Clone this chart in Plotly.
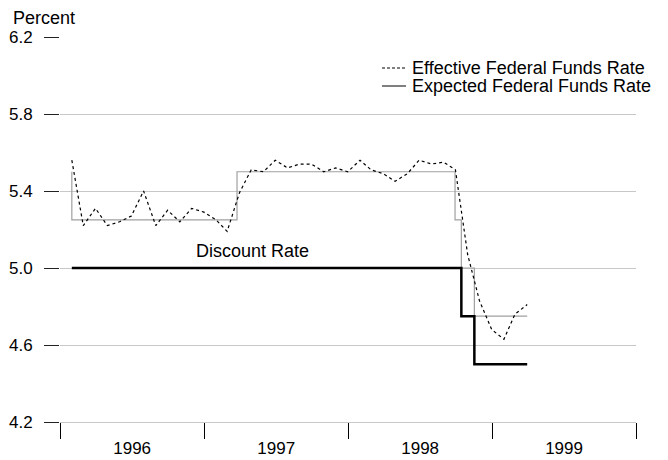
import plotly.graph_objects as go
import pandas as pd

# Effective federal funds rate, monthly averages (plotted at month end)
effr_months = pd.date_range("1996-01-31", "1999-03-31", freq="ME").strftime("%Y-%m-%d").tolist()
effr_values = [5.56, 5.22, 5.31, 5.22, 5.24, 5.27, 5.40, 5.22, 5.30, 5.24, 5.31, 5.29,
               5.25, 5.19, 5.39, 5.51, 5.50, 5.56, 5.52, 5.54, 5.54, 5.50, 5.52, 5.50,
               5.56, 5.51, 5.49, 5.45, 5.49, 5.56, 5.54, 5.55, 5.51, 5.07, 4.83, 4.68,
               4.63, 4.76, 4.81]

# Expected (target) federal funds rate, step changes
target_dates = ["1996-01-31", "1996-01-31", "1997-03-25", "1998-09-29", "1998-10-15", "1998-11-17", "1999-03-31"]
target_values = [5.50, 5.25, 5.50, 5.25, 5.00, 4.75, 4.75]

# Discount rate, step changes
discount_dates = ["1996-01-31", "1998-10-15", "1998-11-17", "1999-03-31"]
discount_values = [5.00, 4.75, 4.50, 4.50]

y_ticks = [4.2, 4.6, 5.0, 5.4, 5.8, 6.2]
y_tick_labels = ["4.2", "4.6", "5.0", "5.4", "5.8", "6.2"]

FONT = "Liberation Sans, Arial, sans-serif"
OFF = 8  # page body margin
W, H = 668 - OFF, 460 - OFF
ML, MR, MT, MB = 60 - OFF, 32, 37 - OFF, 38
PW, PH = W - ML - MR, H - MT - MB


def px_x(x):
    return (x - OFF - ML) / PW


def px_y(y):
    return 1 - (y - OFF - MT) / PH


fig = go.Figure()
fig.add_trace(go.Scatter(x=target_dates, y=target_values, mode="lines",
                         line=dict(shape="hv", color="#a0a0a0", width=1.2),
                         name="Expected Federal Funds Rate", showlegend=False))
fig.add_trace(go.Scatter(x=discount_dates, y=discount_values, mode="lines",
                         line=dict(shape="hv", color="black", width=2.5),
                         name="Discount Rate", showlegend=False))
fig.add_trace(go.Scatter(x=effr_months, y=effr_values, mode="lines",
                         line=dict(color="black", width=1.2, dash="3px,3px"),
                         name="Effective Federal Funds Rate", showlegend=False))

fig.update_layout(
    width=W, height=H,
    margin=dict(l=ML, r=MR, t=MT, b=MB, autoexpand=False),
    paper_bgcolor="white", plot_bgcolor="white",
    font=dict(family=FONT, size=18, color="black"),
    showlegend=False,
    xaxis=dict(
        type="date", automargin=False,
        range=["1996-01-01", "1999-12-31 23:59"],
        tickmode="linear", tick0="1996-01-01", dtick="M12",
        tickformat="%Y", ticklabelmode="period",
        ticks="outside", ticklen=16, tickcolor="black", tickwidth=1,
        showgrid=False, showline=True, linecolor="#c8c8c8", linewidth=1,
        zeroline=False, tickfont=dict(size=17), ticklabelstandoff=-5,
    ),
    yaxis=dict(
        automargin=False,
        range=[4.2, 6.2],
        tickmode="array", tickvals=y_ticks, ticktext=y_tick_labels,
        ticks="outside", ticklen=15, tickcolor="#222", tickwidth=1,
        showgrid=True, gridcolor="#c8c8c8", gridwidth=1,
        showline=False, zeroline=False, tickfont=dict(size=17),
        ticklabelstandoff=8,
    ),
)

# Axis unit label
fig.add_annotation(text="Percent", xref="paper", yref="paper", x=px_x(11), y=px_y(18),
                   xanchor="left", yanchor="middle", showarrow=False,
                   font=dict(size=18))

# Discount rate label
fig.add_annotation(text="Discount Rate", x="1997-05-04", y=5.0, yshift=17,
                   xanchor="center", yanchor="middle", showarrow=False,
                   font=dict(size=18))

# Manual legend
legend_items = [("Effective Federal Funds Rate", "3px,2px", 68),
                ("Expected Federal Funds Rate", "solid", 86)]
for label, dash, ypix in legend_items:
    yp = px_y(ypix)
    fig.add_shape(type="line", xref="paper", yref="paper",
                  x0=px_x(382), x1=px_x(406), y0=yp, y1=yp,
                  line=dict(color="black", width=1, dash=dash))
    fig.add_annotation(text=label, xref="paper", yref="paper",
                       x=px_x(410), y=yp,
                       xanchor="left", yanchor="middle", showarrow=False,
                       font=dict(size=18))

fig.write_html("out.html")
